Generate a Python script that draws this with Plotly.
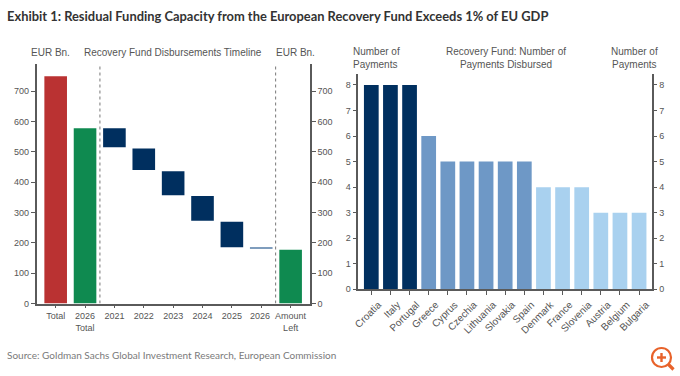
import plotly.graph_objects as go

W, H = 680, 376
def px(x): return x / W
def py(y): return 1 - y / H

# Left panel data
left_cats = ["Total", "2026<br>Total", "2021", "2022", "2023", "2024", "2025", "2026 ", "Amount<br>Left"]
left_base = [0, 0, 515, 440, 357, 273, 185, 181, 0]
left_top = [749, 577, 577, 511, 436, 354, 269, 183, 177]
left_colors = ["#BA3232", "#0F8A50", "#002F5F", "#002F5F", "#002F5F", "#002F5F", "#002F5F", "#7F9DBD", "#0F8A50"]
left_ticks = [0, 100, 200, 300, 400, 500, 600, 700]

# Right panel data
right_cats = ["Croatia", "Italy", "Portugal", "Greece", "Cyprus", "Czechia", "Lithuania", "Slovakia", "Spain",
              "Denmark", "France", "Slovenia", "Austria", "Belgium", "Bulgaria"]
right_vals = [8, 8, 8, 6, 5, 5, 5, 5, 5, 4, 4, 4, 3, 3, 3]
right_colors = ["#002F5F"] * 3 + ["#6E98C6"] * 6 + ["#A9D1EF"] * 6
right_ticks = [0, 1, 2, 3, 4, 5, 6, 7, 8]

TXT = "#555555"
AXC = "#5A5A5A"
FONT = "Liberation Sans"

fig = go.Figure()
fig.add_bar(x=left_cats, y=[t - b for t, b in zip(left_top, left_base)], base=left_base,
            marker=dict(color=left_colors, line_width=0), width=0.77, xaxis="x", yaxis="y")
fig.add_bar(x=left_cats, y=left_top, opacity=0, width=0.77, xaxis="x", yaxis="y2", hoverinfo="skip")
fig.add_bar(x=right_cats, y=right_vals, marker=dict(color=right_colors, line_width=0), width=0.77,
            xaxis="x2", yaxis="y3")
fig.add_bar(x=right_cats, y=right_vals, opacity=0, width=0.77, xaxis="x2", yaxis="y4", hoverinfo="skip")

tick = dict(ticks="outside", ticklen=4, tickwidth=1, tickcolor=AXC, showgrid=False, zeroline=False,
            showline=True, linecolor=AXC, linewidth=1.5, tickfont=dict(family=FONT, size=9, color=TXT))
xtick_left = {**tick, "ticklen": 3}
xtick_right = {**tick, "ticklen": 4, "tickfont": dict(family=FONT, size=10, color=TXT)}

fig.update_layout(
    width=W, height=H, autosize=False, margin=dict(l=0, r=0, t=0, b=0, autoexpand=False),
    paper_bgcolor="white", plot_bgcolor="white", showlegend=False, barmode="overlay",
    xaxis=dict(domain=[px(36.5), px(310)], range=[-0.653, 8.66], anchor="y", type="category",
               tickangle=0, **xtick_left),
    yaxis=dict(domain=[py(303.5), py(64)], range=[0, 789], anchor="x", tickvals=left_ticks, **tick),
    yaxis2=dict(domain=[py(303.5), py(64)], range=[0, 789], anchor="x", overlaying="y", side="right",
                tickvals=left_ticks, **tick),
    xaxis2=dict(domain=[px(358.3), px(651.7)], range=[-0.68, 14.66], anchor="y3", type="category",
                tickangle=-45, ticklabelshift=7, **xtick_right),
    yaxis3=dict(domain=[py(289.3), py(74)], range=[0, 8.43], anchor="x2", tickvals=right_ticks, **tick),
    yaxis4=dict(domain=[py(289.3), py(74)], range=[0, 8.43], anchor="x2", overlaying="y3", side="right",
                tickvals=right_ticks, **tick),
)

def note(text, x, y, size=10, color=TXT, family=FONT, anchor="center", align="center"):
    fig.add_annotation(text=text, xref="paper", yref="paper", x=px(x), y=py(y), showarrow=False,
                       font=dict(family=family, size=size, color=color), xanchor=anchor, yanchor="middle",
                       align=align, borderpad=0, borderwidth=0)

note("<b>Exhibit 1: Residual Funding Capacity from the European Recovery Fund Exceeds 1% of EU GDP</b>",
     7, 16, size=12.9, color="#333333", family="Lato", anchor="left", align="left")
note("Source: Goldman Sachs Global Investment Research, European Commission", 7, 355, size=10,
     color="#7A7A7A", family="Lato", anchor="left", align="left")
note("EUR Bn.", 50.5, 52)
note("Recovery Fund Disbursements Timeline", 173, 52)
note("EUR Bn.", 295, 52)
note("Number of<br>Payments", 353, 57.5, anchor="left", align="left")
note("Recovery Fund: Number of<br>Payments Disbursed", 505.5, 57.5)
note("Number of<br>Payments", 634, 57.5)

# Dotted separators between the panel's sections
for xpos in [1.507, 7.49]:
    fig.add_shape(type="line", xref="x", yref="y", x0=xpos, x1=xpos, y0=0, y1=789,
                  line=dict(color="#777777", width=1, dash="dot"))

# Zoom icon
OR = "#E8622A"
cx, cy, r = 661.5, 357.5, 9.5
fig.add_shape(type="circle", xref="paper", yref="paper", x0=px(cx - r), x1=px(cx + r), y0=py(cy + r), y1=py(cy - r),
              line=dict(color=OR, width=2.2))
fig.add_shape(type="line", xref="paper", yref="paper", x0=px(668.5), x1=px(673.5), y0=py(364.5), y1=py(369.5),
              line=dict(color=OR, width=3.2))
fig.add_shape(type="line", xref="paper", yref="paper", x0=px(cx - 4.5), x1=px(cx + 4.5), y0=py(cy), y1=py(cy),
              line=dict(color=OR, width=2.4))
fig.add_shape(type="line", xref="paper", yref="paper", x0=px(cx), x1=px(cx), y0=py(cy - 4.5), y1=py(cy + 4.5),
              line=dict(color=OR, width=2.4))

fig.write_html("out.html", config={"displayModeBar": False},
               post_script="document.body.style.margin='0';document.body.style.overflow='hidden';")
